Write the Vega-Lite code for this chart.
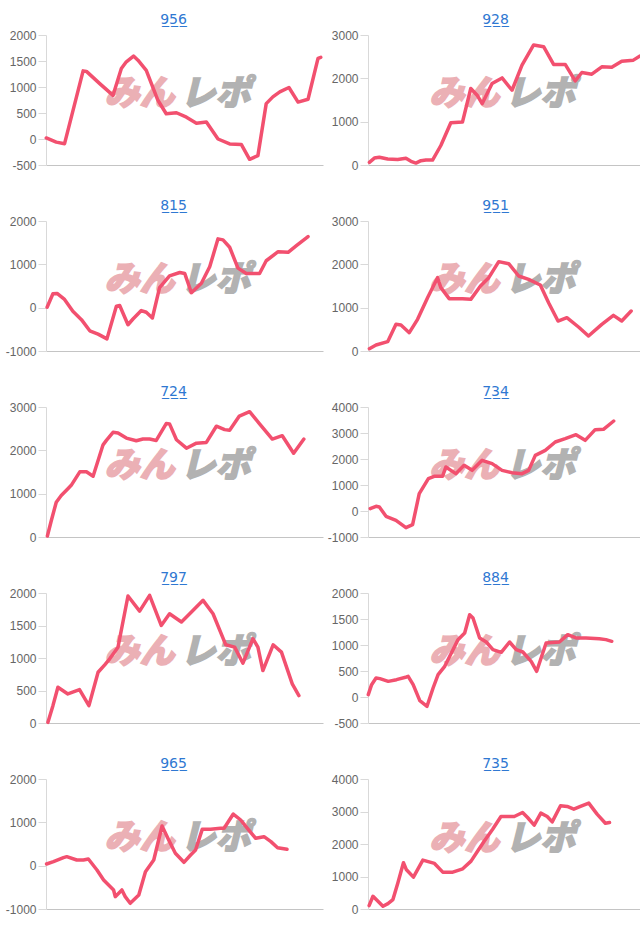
{
"$schema": "https://vega.github.io/schema/vega-lite/v6.json",
"background": "white",
"padding": {"left": 5, "top": 13, "right": 0, "bottom": 0},
"columns": 2,
"spacing": {"row": 28, "column": 4},
"data": {"values": [
{"p":"956","t":0.1,"v":20},{"p":"956","t":3.7,"v":-60},{"p":"956","t":6.7,"v":-90},{"p":"956","t":13.4,"v":1310},{"p":"956","t":14.6,"v":1300},{"p":"956","t":19.4,"v":1065},{"p":"956","t":24.2,"v":840},{"p":"956","t":27.2,"v":1355},{"p":"956","t":29,"v":1485},{"p":"956","t":31.6,"v":1595},{"p":"956","t":33.2,"v":1515},{"p":"956","t":36.2,"v":1320},{"p":"956","t":40.4,"v":745},{"p":"956","t":43.4,"v":485},{"p":"956","t":47.1,"v":505},{"p":"956","t":50.7,"v":420},{"p":"956","t":54.3,"v":305},{"p":"956","t":57.9,"v":325},{"p":"956","t":62.1,"v":0},{"p":"956","t":66.3,"v":-95},{"p":"956","t":70.5,"v":-105},{"p":"956","t":73.5,"v":-390},{"p":"956","t":76.5,"v":-320},{"p":"956","t":79.5,"v":680},{"p":"956","t":81.9,"v":810},{"p":"956","t":84.4,"v":905},{"p":"956","t":87.7,"v":990},{"p":"956","t":91,"v":710},{"p":"956","t":94.6,"v":765},{"p":"956","t":98.2,"v":1550},{"p":"956","t":99.2,"v":1570},
{"p":"928","t":0.5,"v":62},{"p":"928","t":2.3,"v":160},{"p":"928","t":4.1,"v":180},{"p":"928","t":7.1,"v":140},{"p":"928","t":10.7,"v":125},{"p":"928","t":13.7,"v":155},{"p":"928","t":15.5,"v":85},{"p":"928","t":17.3,"v":45},{"p":"928","t":19.1,"v":100},{"p":"928","t":20.9,"v":115},{"p":"928","t":23.3,"v":115},{"p":"928","t":26.3,"v":450},{"p":"928","t":29.9,"v":975},{"p":"928","t":34.1,"v":990},{"p":"928","t":37.1,"v":1765},{"p":"928","t":39.4,"v":1610},{"p":"928","t":41.2,"v":1415},{"p":"928","t":44.8,"v":1880},{"p":"928","t":48.4,"v":2010},{"p":"928","t":52,"v":1725},{"p":"928","t":55.6,"v":2305},{"p":"928","t":59.8,"v":2770},{"p":"928","t":63.4,"v":2730},{"p":"928","t":67,"v":2320},{"p":"928","t":71.2,"v":2320},{"p":"928","t":74.8,"v":1940},{"p":"928","t":77.2,"v":2135},{"p":"928","t":80.8,"v":2095},{"p":"928","t":84.4,"v":2265},{"p":"928","t":88,"v":2255},{"p":"928","t":91.6,"v":2395},{"p":"928","t":95.8,"v":2420},{"p":"928","t":98.2,"v":2515},
{"p":"815","t":0.4,"v":10},{"p":"815","t":2.5,"v":321},{"p":"815","t":4,"v":329},{"p":"815","t":6.7,"v":189},{"p":"815","t":9.7,"v":-83},{"p":"815","t":12.8,"v":-277},{"p":"815","t":15.8,"v":-534},{"p":"815","t":18.8,"v":-611},{"p":"815","t":22,"v":-720},{"p":"815","t":25.4,"v":34},{"p":"815","t":26.6,"v":49},{"p":"815","t":29.6,"v":-394},{"p":"815","t":31.4,"v":-262},{"p":"815","t":34.4,"v":-67},{"p":"815","t":36.2,"v":-106},{"p":"815","t":38.4,"v":-238},{"p":"815","t":41,"v":461},{"p":"815","t":44.6,"v":733},{"p":"815","t":48.3,"v":811},{"p":"815","t":50.1,"v":787},{"p":"815","t":52.5,"v":345},{"p":"815","t":56.1,"v":562},{"p":"815","t":59.1,"v":943},{"p":"815","t":62.1,"v":1588},{"p":"815","t":63.9,"v":1565},{"p":"815","t":66.3,"v":1394},{"p":"815","t":69.3,"v":912},{"p":"815","t":72.3,"v":787},{"p":"815","t":77.1,"v":787},{"p":"815","t":79.5,"v":1083},{"p":"815","t":83.8,"v":1293},{"p":"815","t":87.4,"v":1277},{"p":"815","t":90.4,"v":1433},{"p":"815","t":94.6,"v":1642},
{"p":"951","t":0.5,"v":54},{"p":"951","t":2.9,"v":138},{"p":"951","t":7.1,"v":215},{"p":"951","t":10.1,"v":615},{"p":"951","t":11.9,"v":600},{"p":"951","t":14.9,"v":423},{"p":"951","t":17.9,"v":731},{"p":"951","t":21.5,"v":1231},{"p":"951","t":25.1,"v":1692},{"p":"951","t":26.3,"v":1462},{"p":"951","t":29.3,"v":1208},{"p":"951","t":34.1,"v":1208},{"p":"951","t":37.1,"v":1192},{"p":"951","t":40.6,"v":1500},{"p":"951","t":43.6,"v":1692},{"p":"951","t":47.2,"v":2062},{"p":"951","t":50.8,"v":2015},{"p":"951","t":54.4,"v":1731},{"p":"951","t":58,"v":1654},{"p":"951","t":62.2,"v":1523},{"p":"951","t":65.2,"v":1115},{"p":"951","t":68.6,"v":692},{"p":"951","t":71.8,"v":769},{"p":"951","t":76,"v":554},{"p":"951","t":79.6,"v":346},{"p":"951","t":84.4,"v":615},{"p":"951","t":88.6,"v":823},{"p":"951","t":91.6,"v":692},{"p":"951","t":95,"v":923},
{"p":"724","t":0.5,"v":23},{"p":"724","t":1.9,"v":374},{"p":"724","t":3.7,"v":803},{"p":"724","t":5.5,"v":958},{"p":"724","t":7.9,"v":1114},{"p":"724","t":9.1,"v":1192},{"p":"724","t":12.2,"v":1504},{"p":"724","t":14.6,"v":1504},{"p":"724","t":17,"v":1403},{"p":"724","t":20.6,"v":2127},{"p":"724","t":21.8,"v":2229},{"p":"724","t":24.2,"v":2416},{"p":"724","t":26,"v":2400},{"p":"724","t":29,"v":2283},{"p":"724","t":32.6,"v":2221},{"p":"724","t":35,"v":2260},{"p":"724","t":37.4,"v":2260},{"p":"724","t":39.8,"v":2229},{"p":"724","t":43.4,"v":2618},{"p":"724","t":44.6,"v":2610},{"p":"724","t":47.1,"v":2244},{"p":"724","t":50.7,"v":2049},{"p":"724","t":54.3,"v":2166},{"p":"724","t":57.9,"v":2182},{"p":"724","t":61.5,"v":2556},{"p":"724","t":64.5,"v":2478},{"p":"724","t":66.3,"v":2462},{"p":"724","t":69.8,"v":2790},{"p":"724","t":73.5,"v":2891},{"p":"724","t":77.1,"v":2610},{"p":"724","t":81.7,"v":2260},{"p":"724","t":85.3,"v":2338},{"p":"724","t":89.4,"v":1932},{"p":"724","t":93.1,"v":2260},
{"p":"734","t":0.8,"v":90},{"p":"734","t":2.9,"v":180},{"p":"734","t":4.1,"v":154},{"p":"734","t":6.5,"v":-205},{"p":"734","t":10.1,"v":-359},{"p":"734","t":13.7,"v":-641},{"p":"734","t":16.1,"v":-526},{"p":"734","t":18.5,"v":667},{"p":"734","t":21.8,"v":1244},{"p":"734","t":23.9,"v":1333},{"p":"734","t":26.9,"v":1333},{"p":"734","t":28.1,"v":1692},{"p":"734","t":31.7,"v":1436},{"p":"734","t":34.7,"v":1756},{"p":"734","t":37.6,"v":1564},{"p":"734","t":41.2,"v":1949},{"p":"734","t":44.8,"v":1821},{"p":"734","t":48.4,"v":1564},{"p":"734","t":52,"v":1474},{"p":"734","t":55.6,"v":1436},{"p":"734","t":58,"v":1564},{"p":"734","t":60.4,"v":2141},{"p":"734","t":64,"v":2333},{"p":"734","t":67.6,"v":2654},{"p":"734","t":71.2,"v":2782},{"p":"734","t":75.1,"v":2936},{"p":"734","t":78.4,"v":2718},{"p":"734","t":82,"v":3128},{"p":"734","t":85,"v":3141},{"p":"734","t":88.7,"v":3462},
{"p":"797","t":0.7,"v":10},{"p":"797","t":2.5,"v":267},{"p":"797","t":4.3,"v":550},{"p":"797","t":7.9,"v":447},{"p":"797","t":12.1,"v":514},{"p":"797","t":15.5,"v":267},{"p":"797","t":18.8,"v":781},{"p":"797","t":21.2,"v":895},{"p":"797","t":23,"v":987},{"p":"797","t":26,"v":1167},{"p":"797","t":29.6,"v":1954},{"p":"797","t":33.8,"v":1722},{"p":"797","t":37.4,"v":1964},{"p":"797","t":41.6,"v":1501},{"p":"797","t":44.6,"v":1681},{"p":"797","t":48.9,"v":1553},{"p":"797","t":52.5,"v":1707},{"p":"797","t":56.7,"v":1887},{"p":"797","t":60.3,"v":1681},{"p":"797","t":64.9,"v":1203},{"p":"797","t":68.1,"v":1167},{"p":"797","t":71.1,"v":920},{"p":"797","t":74.7,"v":1296},{"p":"797","t":76.5,"v":1167},{"p":"797","t":78.3,"v":807},{"p":"797","t":82,"v":1203},{"p":"797","t":85,"v":1090},{"p":"797","t":88.9,"v":601},{"p":"797","t":91.3,"v":422},
{"p":"884","t":0.1,"v":45},{"p":"884","t":1.3,"v":237},{"p":"884","t":2.9,"v":365},{"p":"884","t":4.3,"v":353},{"p":"884","t":7.3,"v":301},{"p":"884","t":10.3,"v":333},{"p":"884","t":13.9,"v":385},{"p":"884","t":14.5,"v":397},{"p":"884","t":16.3,"v":237},{"p":"884","t":18.7,"v":-71},{"p":"884","t":21.3,"v":-179},{"p":"884","t":23.5,"v":173},{"p":"884","t":25.3,"v":429},{"p":"884","t":27.7,"v":590},{"p":"884","t":30.1,"v":846},{"p":"884","t":32.5,"v":1103},{"p":"884","t":34.9,"v":1231},{"p":"884","t":36.7,"v":1583},{"p":"884","t":37.9,"v":1519},{"p":"884","t":40.3,"v":1135},{"p":"884","t":42.7,"v":1058},{"p":"884","t":45.1,"v":910},{"p":"884","t":48.1,"v":859},{"p":"884","t":51.1,"v":1058},{"p":"884","t":53.5,"v":910},{"p":"884","t":55.9,"v":865},{"p":"884","t":58.9,"v":686},{"p":"884","t":60.9,"v":494},{"p":"884","t":64.3,"v":1038},{"p":"884","t":69.1,"v":1058},{"p":"884","t":72.1,"v":1199},{"p":"884","t":75.1,"v":1135},{"p":"884","t":78.7,"v":1135},{"p":"884","t":83.5,"v":1122},{"p":"884","t":85.9,"v":1103},{"p":"884","t":88,"v":1071},
{"p":"965","t":0.2,"v":39},{"p":"965","t":2.7,"v":92},{"p":"965","t":6.3,"v":185},{"p":"965","t":7.5,"v":208},{"p":"965","t":11.1,"v":131},{"p":"965","t":13.5,"v":131},{"p":"965","t":15.3,"v":154},{"p":"965","t":18.4,"v":-100},{"p":"965","t":20.8,"v":-331},{"p":"965","t":24.4,"v":-561},{"p":"965","t":25,"v":-715},{"p":"965","t":27.4,"v":-561},{"p":"965","t":28.6,"v":-715},{"p":"965","t":30.4,"v":-869},{"p":"965","t":33.5,"v":-677},{"p":"965","t":35.9,"v":-138},{"p":"965","t":38.9,"v":131},{"p":"965","t":41.9,"v":915},{"p":"965","t":44.3,"v":592},{"p":"965","t":46.7,"v":285},{"p":"965","t":49.8,"v":77},{"p":"965","t":52.2,"v":246},{"p":"965","t":54,"v":362},{"p":"965","t":56.4,"v":838},{"p":"965","t":59.4,"v":838},{"p":"965","t":63,"v":862},{"p":"965","t":64.3,"v":862},{"p":"965","t":67.6,"v":1192},{"p":"965","t":70.3,"v":1054},{"p":"965","t":72.7,"v":862},{"p":"965","t":75.7,"v":631},{"p":"965","t":78.7,"v":669},{"p":"965","t":81.2,"v":554},{"p":"965","t":83.6,"v":415},{"p":"965","t":87,"v":377},
{"p":"735","t":0.4,"v":103},{"p":"735","t":1.8,"v":392},{"p":"735","t":3.6,"v":237},{"p":"735","t":5.4,"v":82},{"p":"735","t":7.2,"v":165},{"p":"735","t":9,"v":289},{"p":"735","t":10.8,"v":804},{"p":"735","t":12.8,"v":1423},{"p":"735","t":13.8,"v":1217},{"p":"735","t":16.4,"v":979},{"p":"735","t":19.8,"v":1505},{"p":"735","t":24,"v":1402},{"p":"735","t":27,"v":1134},{"p":"735","t":30.6,"v":1134},{"p":"735","t":34.2,"v":1237},{"p":"735","t":37.2,"v":1474},{"p":"735","t":39.6,"v":1784},{"p":"735","t":42,"v":2093},{"p":"735","t":45,"v":2454},{"p":"735","t":48,"v":2846},{"p":"735","t":52.8,"v":2846},{"p":"735","t":55.8,"v":2969},{"p":"735","t":57.6,"v":2815},{"p":"735","t":60,"v":2578},{"p":"735","t":62.4,"v":2949},{"p":"735","t":64.7,"v":2846},{"p":"735","t":66.5,"v":2681},{"p":"735","t":69.5,"v":3175},{"p":"735","t":71.9,"v":3155},{"p":"735","t":74.3,"v":3072},{"p":"735","t":76.7,"v":3155},{"p":"735","t":79.7,"v":3258},{"p":"735","t":82.7,"v":2918},{"p":"735","t":85.7,"v":2639},{"p":"735","t":87.2,"v":2660}
]},
"concat": [
{"title": "9\u03325\u03326\u0332", "width": 277, "height": 130,
 "layer": [
  {"data": {"values": [{}]}, "mark": {"type": "text", "text": "みん", "align": "right", "baseline": "middle", "dx": -3, "font": "Noto Sans CJK JP", "fontSize": 35, "fontWeight": 900, "fontStyle": "italic", "color": "#ebb0b5", "stroke": "#ebb0b5", "strokeWidth": 1.5}, "encoding": {"x": {"datum": 47.5, "type": "quantitative"}, "y": {"datum": 875, "type": "quantitative"}}},
  {"data": {"values": [{}]}, "mark": {"type": "text", "text": "レポ", "align": "left", "baseline": "middle", "dx": 3, "font": "Noto Sans CJK JP", "fontSize": 35, "fontWeight": 900, "fontStyle": "italic", "color": "#b2b2b2", "stroke": "#b2b2b2", "strokeWidth": 1.5}, "encoding": {"x": {"datum": 47.5, "type": "quantitative"}, "y": {"datum": 875, "type": "quantitative"}}},
  {"transform": [{"filter": "datum.p == '956'"}], "mark": {"type": "line", "color": "#f2506f", "strokeWidth": 3.5, "strokeJoin": "round", "strokeCap": "round"},
   "encoding": {"x": {"field": "t", "type": "quantitative", "scale": {"domain": [0, 100], "nice": false, "zero": false}, "axis": {"labels": false, "ticks": false, "grid": false, "title": null}},
    "y": {"field": "v", "type": "quantitative", "scale": {"domain": [-500, 2000], "nice": false}, "axis": {"values": [-500, 0, 500, 1000, 1500, 2000], "tickCount": 20, "labelOverlap": false, "title": null}}}}
 ]},
{"title": "9\u03322\u03328\u0332", "width": 277, "height": 130,
 "layer": [
  {"data": {"values": [{}]}, "mark": {"type": "text", "text": "みん", "align": "right", "baseline": "middle", "dx": -3, "font": "Noto Sans CJK JP", "fontSize": 35, "fontWeight": 900, "fontStyle": "italic", "color": "#ebb0b5", "stroke": "#ebb0b5", "strokeWidth": 1.5}, "encoding": {"x": {"datum": 48.5, "type": "quantitative"}, "y": {"datum": 1650, "type": "quantitative"}}},
  {"data": {"values": [{}]}, "mark": {"type": "text", "text": "レポ", "align": "left", "baseline": "middle", "dx": 3, "font": "Noto Sans CJK JP", "fontSize": 35, "fontWeight": 900, "fontStyle": "italic", "color": "#b2b2b2", "stroke": "#b2b2b2", "strokeWidth": 1.5}, "encoding": {"x": {"datum": 48.5, "type": "quantitative"}, "y": {"datum": 1650, "type": "quantitative"}}},
  {"transform": [{"filter": "datum.p == '928'"}], "mark": {"type": "line", "color": "#f2506f", "strokeWidth": 3.5, "strokeJoin": "round", "strokeCap": "round"},
   "encoding": {"x": {"field": "t", "type": "quantitative", "scale": {"domain": [0, 100], "nice": false, "zero": false}, "axis": {"labels": false, "ticks": false, "grid": false, "title": null}},
    "y": {"field": "v", "type": "quantitative", "scale": {"domain": [0, 3000], "nice": false}, "axis": {"values": [0, 1000, 2000, 3000], "tickCount": 20, "labelOverlap": false, "title": null}}}}
 ]},
{"title": "8\u03321\u03325\u0332", "width": 277, "height": 130,
 "layer": [
  {"data": {"values": [{}]}, "mark": {"type": "text", "text": "みん", "align": "right", "baseline": "middle", "dx": -3, "font": "Noto Sans CJK JP", "fontSize": 35, "fontWeight": 900, "fontStyle": "italic", "color": "#ebb0b5", "stroke": "#ebb0b5", "strokeWidth": 1.5}, "encoding": {"x": {"datum": 47.5, "type": "quantitative"}, "y": {"datum": 650, "type": "quantitative"}}},
  {"data": {"values": [{}]}, "mark": {"type": "text", "text": "レポ", "align": "left", "baseline": "middle", "dx": 3, "font": "Noto Sans CJK JP", "fontSize": 35, "fontWeight": 900, "fontStyle": "italic", "color": "#b2b2b2", "stroke": "#b2b2b2", "strokeWidth": 1.5}, "encoding": {"x": {"datum": 47.5, "type": "quantitative"}, "y": {"datum": 650, "type": "quantitative"}}},
  {"transform": [{"filter": "datum.p == '815'"}], "mark": {"type": "line", "color": "#f2506f", "strokeWidth": 3.5, "strokeJoin": "round", "strokeCap": "round"},
   "encoding": {"x": {"field": "t", "type": "quantitative", "scale": {"domain": [0, 100], "nice": false, "zero": false}, "axis": {"labels": false, "ticks": false, "grid": false, "title": null}},
    "y": {"field": "v", "type": "quantitative", "scale": {"domain": [-1000, 2000], "nice": false}, "axis": {"values": [-1000, 0, 1000, 2000], "tickCount": 20, "labelOverlap": false, "title": null}}}}
 ]},
{"title": "9\u03325\u03321\u0332", "width": 277, "height": 130,
 "layer": [
  {"data": {"values": [{}]}, "mark": {"type": "text", "text": "みん", "align": "right", "baseline": "middle", "dx": -3, "font": "Noto Sans CJK JP", "fontSize": 35, "fontWeight": 900, "fontStyle": "italic", "color": "#ebb0b5", "stroke": "#ebb0b5", "strokeWidth": 1.5}, "encoding": {"x": {"datum": 48.5, "type": "quantitative"}, "y": {"datum": 1650, "type": "quantitative"}}},
  {"data": {"values": [{}]}, "mark": {"type": "text", "text": "レポ", "align": "left", "baseline": "middle", "dx": 3, "font": "Noto Sans CJK JP", "fontSize": 35, "fontWeight": 900, "fontStyle": "italic", "color": "#b2b2b2", "stroke": "#b2b2b2", "strokeWidth": 1.5}, "encoding": {"x": {"datum": 48.5, "type": "quantitative"}, "y": {"datum": 1650, "type": "quantitative"}}},
  {"transform": [{"filter": "datum.p == '951'"}], "mark": {"type": "line", "color": "#f2506f", "strokeWidth": 3.5, "strokeJoin": "round", "strokeCap": "round"},
   "encoding": {"x": {"field": "t", "type": "quantitative", "scale": {"domain": [0, 100], "nice": false, "zero": false}, "axis": {"labels": false, "ticks": false, "grid": false, "title": null}},
    "y": {"field": "v", "type": "quantitative", "scale": {"domain": [0, 3000], "nice": false}, "axis": {"values": [0, 1000, 2000, 3000], "tickCount": 20, "labelOverlap": false, "title": null}}}}
 ]},
{"title": "7\u03322\u03324\u0332", "width": 277, "height": 130,
 "layer": [
  {"data": {"values": [{}]}, "mark": {"type": "text", "text": "みん", "align": "right", "baseline": "middle", "dx": -3, "font": "Noto Sans CJK JP", "fontSize": 35, "fontWeight": 900, "fontStyle": "italic", "color": "#ebb0b5", "stroke": "#ebb0b5", "strokeWidth": 1.5}, "encoding": {"x": {"datum": 47.5, "type": "quantitative"}, "y": {"datum": 1650, "type": "quantitative"}}},
  {"data": {"values": [{}]}, "mark": {"type": "text", "text": "レポ", "align": "left", "baseline": "middle", "dx": 3, "font": "Noto Sans CJK JP", "fontSize": 35, "fontWeight": 900, "fontStyle": "italic", "color": "#b2b2b2", "stroke": "#b2b2b2", "strokeWidth": 1.5}, "encoding": {"x": {"datum": 47.5, "type": "quantitative"}, "y": {"datum": 1650, "type": "quantitative"}}},
  {"transform": [{"filter": "datum.p == '724'"}], "mark": {"type": "line", "color": "#f2506f", "strokeWidth": 3.5, "strokeJoin": "round", "strokeCap": "round"},
   "encoding": {"x": {"field": "t", "type": "quantitative", "scale": {"domain": [0, 100], "nice": false, "zero": false}, "axis": {"labels": false, "ticks": false, "grid": false, "title": null}},
    "y": {"field": "v", "type": "quantitative", "scale": {"domain": [0, 3000], "nice": false}, "axis": {"values": [0, 1000, 2000, 3000], "tickCount": 20, "labelOverlap": false, "title": null}}}}
 ]},
{"title": "7\u03323\u03324\u0332", "width": 277, "height": 130,
 "layer": [
  {"data": {"values": [{}]}, "mark": {"type": "text", "text": "みん", "align": "right", "baseline": "middle", "dx": -3, "font": "Noto Sans CJK JP", "fontSize": 35, "fontWeight": 900, "fontStyle": "italic", "color": "#ebb0b5", "stroke": "#ebb0b5", "strokeWidth": 1.5}, "encoding": {"x": {"datum": 48.5, "type": "quantitative"}, "y": {"datum": 1750, "type": "quantitative"}}},
  {"data": {"values": [{}]}, "mark": {"type": "text", "text": "レポ", "align": "left", "baseline": "middle", "dx": 3, "font": "Noto Sans CJK JP", "fontSize": 35, "fontWeight": 900, "fontStyle": "italic", "color": "#b2b2b2", "stroke": "#b2b2b2", "strokeWidth": 1.5}, "encoding": {"x": {"datum": 48.5, "type": "quantitative"}, "y": {"datum": 1750, "type": "quantitative"}}},
  {"transform": [{"filter": "datum.p == '734'"}], "mark": {"type": "line", "color": "#f2506f", "strokeWidth": 3.5, "strokeJoin": "round", "strokeCap": "round"},
   "encoding": {"x": {"field": "t", "type": "quantitative", "scale": {"domain": [0, 100], "nice": false, "zero": false}, "axis": {"labels": false, "ticks": false, "grid": false, "title": null}},
    "y": {"field": "v", "type": "quantitative", "scale": {"domain": [-1000, 4000], "nice": false}, "axis": {"values": [-1000, 0, 1000, 2000, 3000, 4000], "tickCount": 20, "labelOverlap": false, "title": null}}}}
 ]},
{"title": "7\u03329\u03327\u0332", "width": 277, "height": 130,
 "layer": [
  {"data": {"values": [{}]}, "mark": {"type": "text", "text": "みん", "align": "right", "baseline": "middle", "dx": -3, "font": "Noto Sans CJK JP", "fontSize": 35, "fontWeight": 900, "fontStyle": "italic", "color": "#ebb0b5", "stroke": "#ebb0b5", "strokeWidth": 1.5}, "encoding": {"x": {"datum": 47.5, "type": "quantitative"}, "y": {"datum": 1100, "type": "quantitative"}}},
  {"data": {"values": [{}]}, "mark": {"type": "text", "text": "レポ", "align": "left", "baseline": "middle", "dx": 3, "font": "Noto Sans CJK JP", "fontSize": 35, "fontWeight": 900, "fontStyle": "italic", "color": "#b2b2b2", "stroke": "#b2b2b2", "strokeWidth": 1.5}, "encoding": {"x": {"datum": 47.5, "type": "quantitative"}, "y": {"datum": 1100, "type": "quantitative"}}},
  {"transform": [{"filter": "datum.p == '797'"}], "mark": {"type": "line", "color": "#f2506f", "strokeWidth": 3.5, "strokeJoin": "round", "strokeCap": "round"},
   "encoding": {"x": {"field": "t", "type": "quantitative", "scale": {"domain": [0, 100], "nice": false, "zero": false}, "axis": {"labels": false, "ticks": false, "grid": false, "title": null}},
    "y": {"field": "v", "type": "quantitative", "scale": {"domain": [0, 2000], "nice": false}, "axis": {"values": [0, 500, 1000, 1500, 2000], "tickCount": 20, "labelOverlap": false, "title": null}}}}
 ]},
{"title": "8\u03328\u03324\u0332", "width": 277, "height": 130,
 "layer": [
  {"data": {"values": [{}]}, "mark": {"type": "text", "text": "みん", "align": "right", "baseline": "middle", "dx": -3, "font": "Noto Sans CJK JP", "fontSize": 35, "fontWeight": 900, "fontStyle": "italic", "color": "#ebb0b5", "stroke": "#ebb0b5", "strokeWidth": 1.5}, "encoding": {"x": {"datum": 48.5, "type": "quantitative"}, "y": {"datum": 875, "type": "quantitative"}}},
  {"data": {"values": [{}]}, "mark": {"type": "text", "text": "レポ", "align": "left", "baseline": "middle", "dx": 3, "font": "Noto Sans CJK JP", "fontSize": 35, "fontWeight": 900, "fontStyle": "italic", "color": "#b2b2b2", "stroke": "#b2b2b2", "strokeWidth": 1.5}, "encoding": {"x": {"datum": 48.5, "type": "quantitative"}, "y": {"datum": 875, "type": "quantitative"}}},
  {"transform": [{"filter": "datum.p == '884'"}], "mark": {"type": "line", "color": "#f2506f", "strokeWidth": 3.5, "strokeJoin": "round", "strokeCap": "round"},
   "encoding": {"x": {"field": "t", "type": "quantitative", "scale": {"domain": [0, 100], "nice": false, "zero": false}, "axis": {"labels": false, "ticks": false, "grid": false, "title": null}},
    "y": {"field": "v", "type": "quantitative", "scale": {"domain": [-500, 2000], "nice": false}, "axis": {"values": [-500, 0, 500, 1000, 1500, 2000], "tickCount": 20, "labelOverlap": false, "title": null}}}}
 ]},
{"title": "9\u03326\u03325\u0332", "width": 277, "height": 130,
 "layer": [
  {"data": {"values": [{}]}, "mark": {"type": "text", "text": "みん", "align": "right", "baseline": "middle", "dx": -3, "font": "Noto Sans CJK JP", "fontSize": 35, "fontWeight": 900, "fontStyle": "italic", "color": "#ebb0b5", "stroke": "#ebb0b5", "strokeWidth": 1.5}, "encoding": {"x": {"datum": 47.5, "type": "quantitative"}, "y": {"datum": 650, "type": "quantitative"}}},
  {"data": {"values": [{}]}, "mark": {"type": "text", "text": "レポ", "align": "left", "baseline": "middle", "dx": 3, "font": "Noto Sans CJK JP", "fontSize": 35, "fontWeight": 900, "fontStyle": "italic", "color": "#b2b2b2", "stroke": "#b2b2b2", "strokeWidth": 1.5}, "encoding": {"x": {"datum": 47.5, "type": "quantitative"}, "y": {"datum": 650, "type": "quantitative"}}},
  {"transform": [{"filter": "datum.p == '965'"}], "mark": {"type": "line", "color": "#f2506f", "strokeWidth": 3.5, "strokeJoin": "round", "strokeCap": "round"},
   "encoding": {"x": {"field": "t", "type": "quantitative", "scale": {"domain": [0, 100], "nice": false, "zero": false}, "axis": {"labels": false, "ticks": false, "grid": false, "title": null}},
    "y": {"field": "v", "type": "quantitative", "scale": {"domain": [-1000, 2000], "nice": false}, "axis": {"values": [-1000, 0, 1000, 2000], "tickCount": 20, "labelOverlap": false, "title": null}}}}
 ]},
{"title": "7\u03323\u03325\u0332", "width": 277, "height": 130,
 "layer": [
  {"data": {"values": [{}]}, "mark": {"type": "text", "text": "みん", "align": "right", "baseline": "middle", "dx": -3, "font": "Noto Sans CJK JP", "fontSize": 35, "fontWeight": 900, "fontStyle": "italic", "color": "#ebb0b5", "stroke": "#ebb0b5", "strokeWidth": 1.5}, "encoding": {"x": {"datum": 48.5, "type": "quantitative"}, "y": {"datum": 2150, "type": "quantitative"}}},
  {"data": {"values": [{}]}, "mark": {"type": "text", "text": "レポ", "align": "left", "baseline": "middle", "dx": 3, "font": "Noto Sans CJK JP", "fontSize": 35, "fontWeight": 900, "fontStyle": "italic", "color": "#b2b2b2", "stroke": "#b2b2b2", "strokeWidth": 1.5}, "encoding": {"x": {"datum": 48.5, "type": "quantitative"}, "y": {"datum": 2150, "type": "quantitative"}}},
  {"transform": [{"filter": "datum.p == '735'"}], "mark": {"type": "line", "color": "#f2506f", "strokeWidth": 3.5, "strokeJoin": "round", "strokeCap": "round"},
   "encoding": {"x": {"field": "t", "type": "quantitative", "scale": {"domain": [0, 100], "nice": false, "zero": false}, "axis": {"labels": false, "ticks": false, "grid": false, "title": null}},
    "y": {"field": "v", "type": "quantitative", "scale": {"domain": [0, 4000], "nice": false}, "axis": {"values": [0, 1000, 2000, 3000, 4000], "tickCount": 20, "labelOverlap": false, "title": null}}}}
 ]}
],
"config": {
 "view": {"stroke": null},
 "title": {"font": "DejaVu Sans", "fontSize": 14, "fontWeight": "normal", "color": "#2f78d2", "anchor": "middle", "offset": 2, "dx": -11},
 "axisX": {"domainColor": "#c4c4c4", "domainWidth": 1},
 "axisY": {"labelFont": "Liberation Sans", "labelFontSize": 12, "labelColor": "#666666", "labelPadding": 2, "labelOverlap": false, "labelFlush": false, "labelExpr": "'' + datum.value", "tickSize": 8, "tickColor": "#d9d9d9", "domainColor": "#d9d9d9", "gridColor": {"condition": {"test": "datum.value === 0", "value": "#bdbdbd"}, "value": "#d9d9d9"}, "minExtent": 38, "maxExtent": 38}
}
}
